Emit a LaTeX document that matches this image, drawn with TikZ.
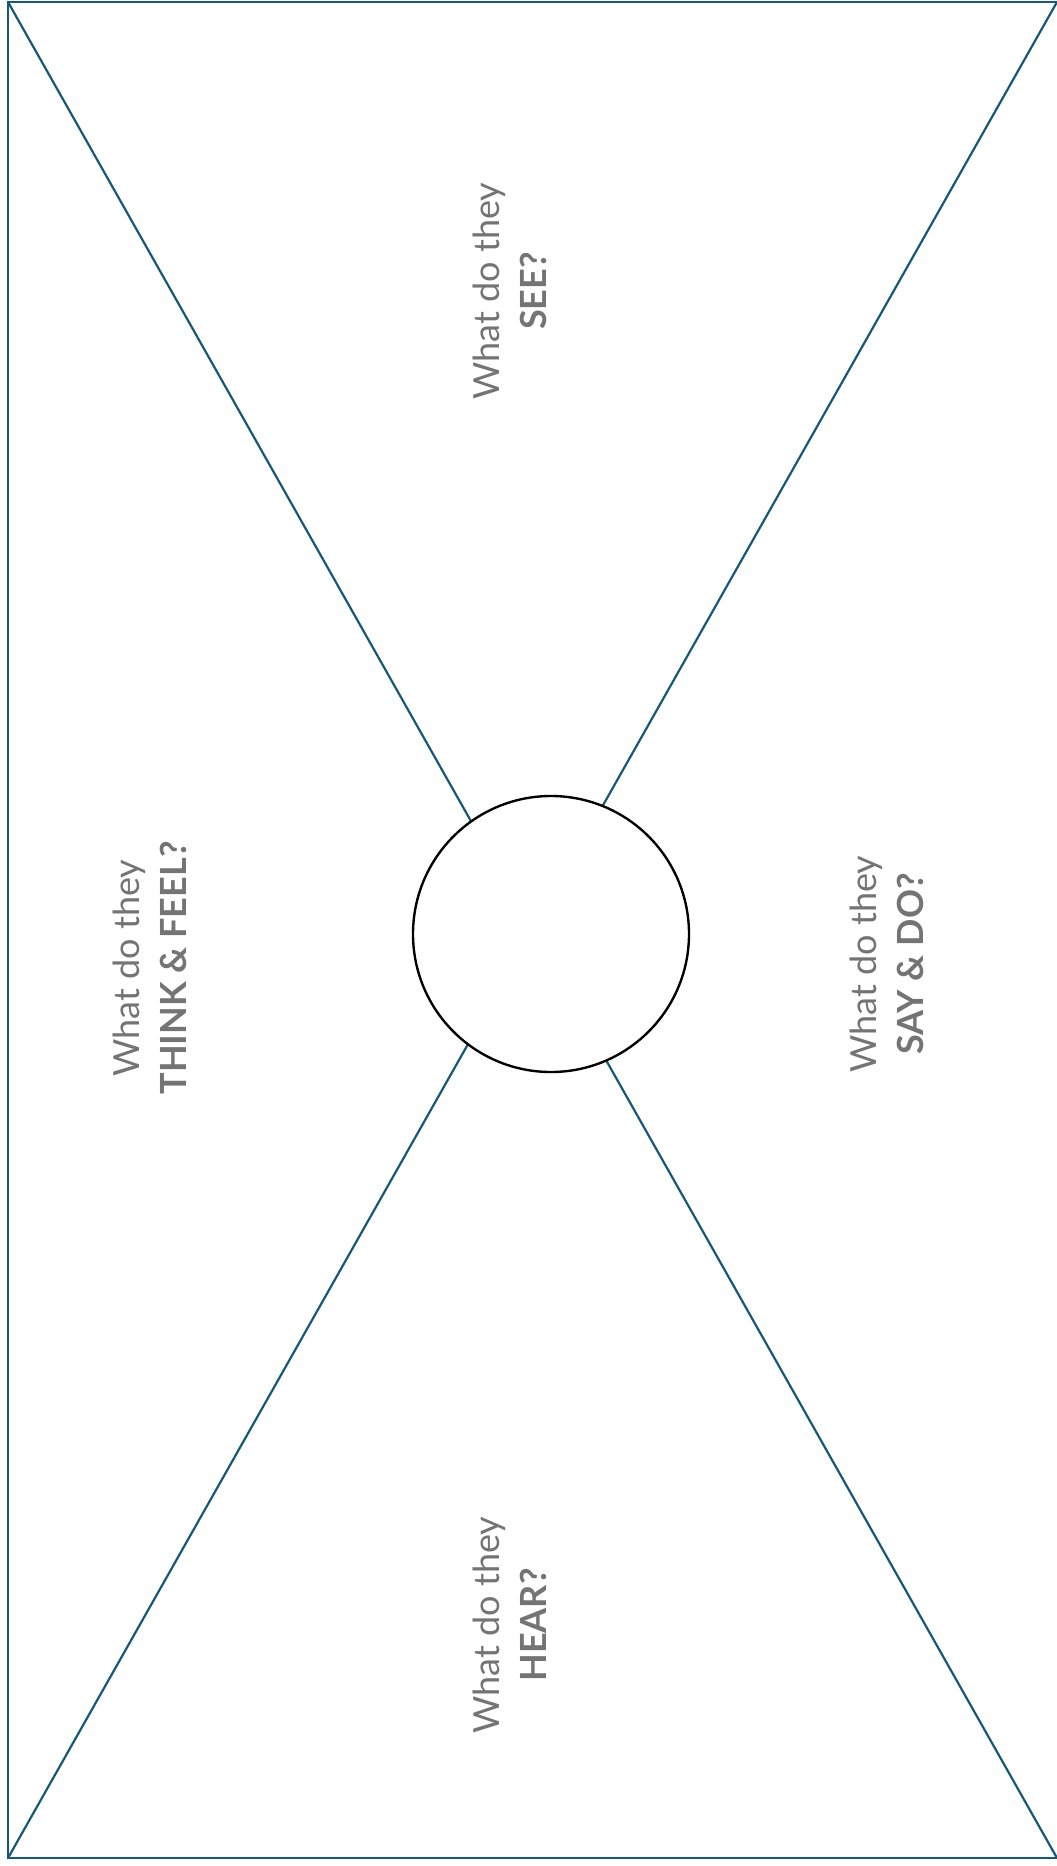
\documentclass[tikz,border=0pt]{standalone}
\usepackage{fontspec}
\setmainfont{Lato}
\usepackage{tikz}
\usetikzlibrary{positioning}
\definecolor{mapblue}{HTML}{165876}
\definecolor{mapgrey}{HTML}{747474}
\tikzset{
  quad/.style={draw=mapblue,line width=1.25pt},
  hub/.style={draw=black,fill=white,circle,line width=1.35pt,minimum size=276*0.02cm,inner sep=0pt},
  prompt/.style={rotate=90,align=center,text=mapgrey,inner sep=0pt,
                 font=\fontsize{20.5}{27}\selectfont}
}

\begin{document}
\begin{tikzpicture}[x={(0.02cm,0)},y={(0,-0.02cm)}]
\useasboundingbox (0,0) rectangle (1057,1866);
\coordinate (tl) at (8,2);
\coordinate (tr) at (1057,2);
\coordinate (bl) at (8,1858);
\coordinate (br) at (1057,1858);

\draw[quad] (1064,2) -- (tl) -- (bl) -- (1064,1858);
\draw[quad] (tl) -- (br);
\draw[quad] (tr) -- (bl);
\node[hub] (user) at (551,934) {};

\node[prompt] (see)   at (510,291)  {What do they\\\textbf{SEE?}};
\node[prompt] (think) at (150,968)  {What do they\\\textbf{THINK \& FEEL?}};
\node[prompt] (say)   at (887,964)  {What do they\\\textbf{SAY \& DO?}};
\node[prompt] (hear)  at (510,1625) {What do they\\\textbf{HEAR?}};
\end{tikzpicture}
\end{document}
